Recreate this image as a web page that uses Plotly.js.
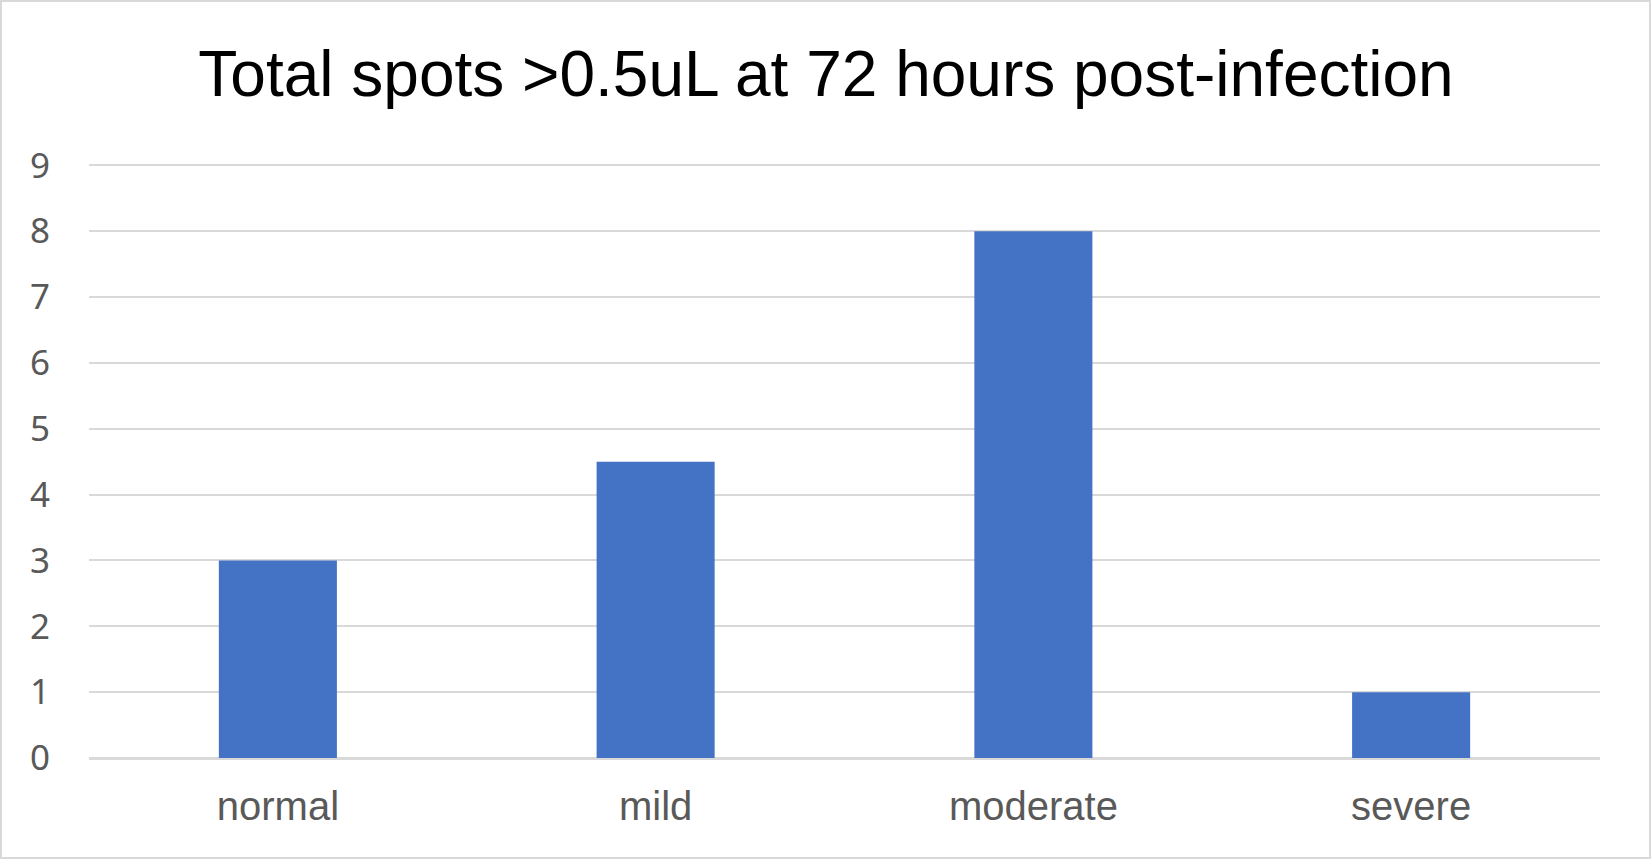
<!DOCTYPE html>
<html>
<head>
<meta charset="utf-8">
<script src="https://cdn.plot.ly/plotly-3.0.1.min.js"></script>
<style>
  html, body { margin: 0; padding: 0; background: #fff; }
  #chart { width: 1652px; height: 860px; }
  #frame { position: absolute; left: 0; top: 0; width: 1651px; height: 859px; box-sizing: border-box; border: 2px solid #d9d9d9; pointer-events: none; }
</style>
</head>
<body>
<div id="chart"></div>
<div id="frame"></div>
<script>
const categories = ["normal", "mild", "moderate", "severe"];
const totalSpots = [3, 4.5, 8, 1];
const yTicks = [0, 1, 2, 3, 4, 5, 6, 7, 8, 9];

const trace = {
  type: "bar",
  x: categories,
  y: totalSpots,
  marker: { color: "#4472c4", line: { width: 0 } },
  hoverinfo: "x+y"
};

const layout = {
  width: 1652,
  height: 860,
  paper_bgcolor: "#ffffff",
  plot_bgcolor: "#ffffff",
  margin: { l: 89, r: 52, t: 162, b: 102, pad: 0 },
  bargap: 0.6875,
  showlegend: false,
  title: {
    text: "Total spots >0.5uL at 72 hours post-infection",
    font: { family: "Liberation Sans, Arial, sans-serif", size: 64, color: "#000000" },
    x: 0.5, xanchor: "center",
    y: 1, yref: "paper", yanchor: "bottom", pad: { b: 66 }
  },
  xaxis: {
    type: "category",
    showgrid: false,
    showline: false,
    zeroline: false,
    ticks: "",
    tickfont: { family: "Liberation Sans, Arial, sans-serif", size: 40, color: "#595959" },
    ticklabelstandoff: 21
  },
  yaxis: {
    range: [0, 9.05],
    tickvals: yTicks,
    ticktext: yTicks.map(String),
    showgrid: true,
    gridcolor: "#d9d9d9",
    gridwidth: 2,
    zeroline: true,
    zerolinecolor: "#d9d9d9",
    zerolinewidth: 3,
    showline: false,
    ticks: "",
    tickfont: { family: "Noto Sans, Open Sans, sans-serif", size: 35, color: "#595959" },
    ticklabelstandoff: 38
  }
};

Plotly.newPlot("chart", [trace], layout, { displayModeBar: false, staticPlot: true });
</script>
</body>
</html>
